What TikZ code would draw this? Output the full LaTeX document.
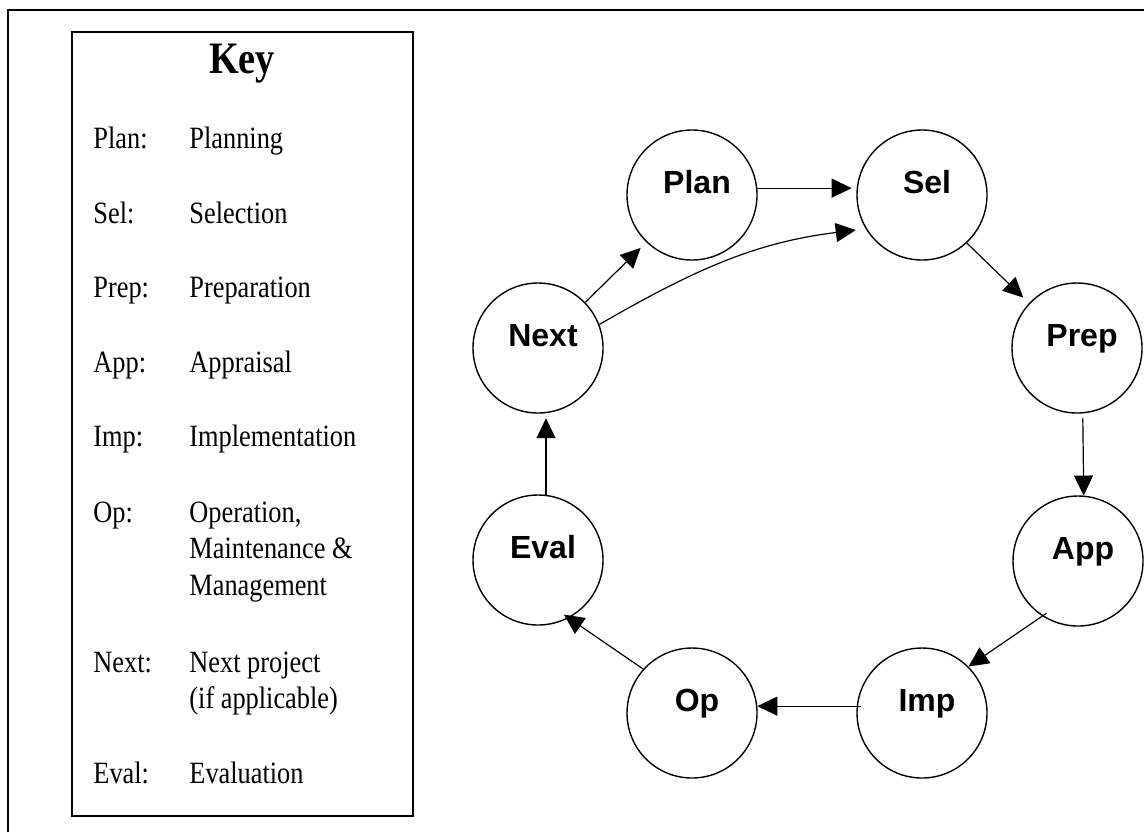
\documentclass[tikz,border=0pt]{standalone}
\usepackage{fontspec}
\setmainfont{Liberation Serif}
\newfontfamily\keyfont[FakeStretch=0.85]{Liberation Serif}
\newfontfamily\stagefont{Liberation Sans}
\usetikzlibrary{arrows.meta}

\begin{document}
\begin{tikzpicture}[x=0.5pt,y=-0.5pt,
  stage/.style={circle,draw,line width=0.7pt,minimum size=65pt,inner sep=0pt,
    font=\stagefont\bfseries\fontsize{16}{18}\selectfont,
    text height=12pt,text depth=14pt,execute at begin node=\hspace*{5pt}},
  keyabbr/.style={anchor=base west,inner sep=0pt,font=\keyfont\fontsize{15.5}{18}\selectfont},
  keytext/.style={keyabbr},
  flow/.style={-{Triangle[length=10pt,width=9.5pt]},line width=0.6pt}]
\useasboundingbox (0,0) rectangle (1144,832);
\draw[line width=1pt] (8,832) -- (8,10) -- (1144,10);
% key
\draw[line width=1pt] (72,32) rectangle (413,816);
\node[anchor=base,inner sep=0pt,font=\keyfont\bfseries\fontsize{22.5}{26}\selectfont] (keytitle) at (242,73) {Key};
\node[keyabbr] (kPlan) at (93,148) {Plan:};
\node[keytext] (tPlan) at (189,148) {Planning};
\node[keyabbr] (kSel) at (93,223) {Sel:};
\node[keytext] (tSel) at (189,223) {Selection};
\node[keyabbr] (kPrep) at (93,297) {Prep:};
\node[keytext] (tPrep) at (189,297) {Preparation};
\node[keyabbr] (kApp) at (93,372) {App:};
\node[keytext] (tApp) at (189,372) {Appraisal};
\node[keyabbr] (kImp) at (93,446) {Imp:};
\node[keytext] (tImp) at (189,446) {Implementation};
\node[keyabbr] (kOp) at (93,522) {Op:};
\node[keytext] (tOp) at (189,522) {Operation,};
\node[keytext] (tOpb) at (189,558) {Maintenance \&};
\node[keytext] (tOpc) at (189,595) {Management};
\node[keyabbr] (kNext) at (93,672) {Next:};
\node[keytext] (tNext) at (189,672) {Next project};
\node[keytext] (tNextb) at (189,708) {(if applicable)};
\node[keyabbr] (kEval) at (93,783) {Eval:};
\node[keytext] (tEval) at (189,783) {Evaluation};
% cycle
\node[stage] (Plan) at (692,195) {Plan};
\node[stage] (Sel) at (922,195) {Sel};
\node[stage] (Prep) at (1077,348) {Prep};
\node[stage] (App) at (1078,561) {App};
\node[stage] (Imp) at (922,713) {Imp};
\node[stage] (Op) at (692,713) {Op};
\node[stage] (Eval) at (538,560) {Eval};
\node[stage] (Next) at (538,348) {Next};
\draw (Plan.6) edge[flow,shorten >=2.5pt] (Sel.174);
\draw (Sel.-47) edge[flow,shorten >=4pt] (Prep.137);
\draw (Prep.-85) edge[flow,shorten <=2.5pt] (App.85);
\draw (App.237) edge[flow,shorten <=-2.5pt] (Imp.45);
\draw (Imp.174) edge[flow,shorten <=-2pt] (Op.6);
\draw (Op.138) edge[flow,shorten >=-3pt] (Eval.-62);
\draw (Eval.83) edge[flow,shorten >=2.5pt] (Next.-83);
\draw (Next.44) edge[flow,shorten >=4pt] (Plan.226);
\draw (Next.21) edge[flow,out=30,in=187,shorten >=5pt] (Sel.211);
\end{tikzpicture}
\end{document}
